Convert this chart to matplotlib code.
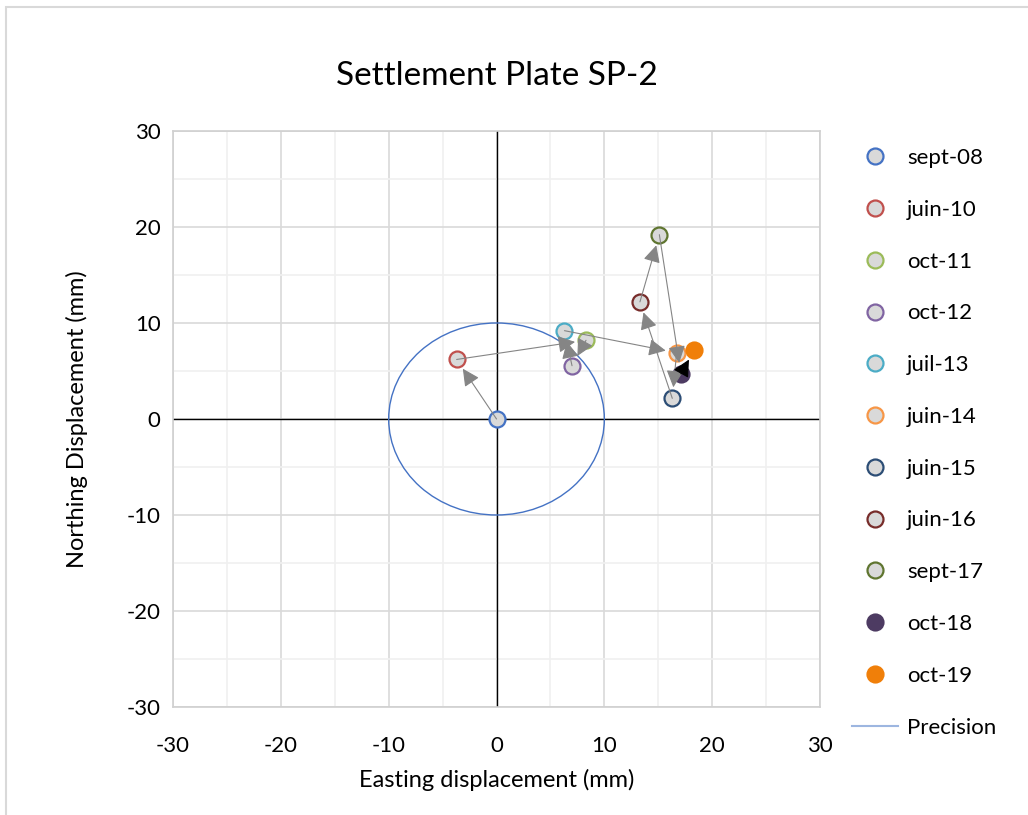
import matplotlib.pyplot as plt
from matplotlib.lines import Line2D
from matplotlib.patches import Circle, Rectangle

plt.rcParams['font.family'] = ['Lato', 'DejaVu Sans']
plt.rcParams['axes.unicode_minus'] = False

# Data
dates = ['sept-08', 'juin-10', 'oct-11', 'oct-12', 'juil-13', 'juin-14',
         'juin-15', 'juin-16', 'sept-17', 'oct-18', 'oct-19']
easting = [0.0, -3.7, 8.3, 7.0, 6.3, 16.7, 16.3, 13.3, 15.1, 17.1, 18.35]
northing = [0.0, 6.2, 8.2, 5.55, 9.2, 6.9, 2.15, 12.2, 19.2, 4.7, 7.2]
edge_colors = ['#4472c4', '#c0504d', '#9bbb59', '#8064a2', '#4bacc6', '#f79646',
               '#2c4d75', '#772c2a', '#5f7530', '#4d3b62', '#f07f09']
filled = [False] * 9 + [True, True]
precision_radius = 10
ticks = [-30, -20, -10, 0, 10, 20, 30]
minor_ticks = [-25, -15, -5, 5, 15, 25]

fig = plt.figure(figsize=(10.28, 8.15), dpi=100)
ax = fig.add_axes([0.1683, 0.1325, 0.6294, 0.7068])

# outer chart border
fig.patches.append(Rectangle((6 / 1028, -0.01), 1.1, 1 - 7 / 815 + 0.01,
                             transform=fig.transFigure, fill=False,
                             edgecolor='#d9d9d9', lw=1.5))

ax.set_xlim(-30, 30)
ax.set_ylim(-30, 30)
ax.set_xticks(ticks)
ax.set_yticks(ticks)
ax.set_xticks(minor_ticks, minor=True)
ax.set_yticks(minor_ticks, minor=True)
ax.grid(which='major', color='#d9d9d9', lw=1.2)
ax.grid(which='minor', color='#f0f0f0', lw=1.2)
ax.set_axisbelow(True)
ax.tick_params(which='both', length=0, labelsize=16)
ax.tick_params(axis='x', pad=21)
ax.tick_params(axis='y', pad=9)
for s in ax.spines.values():
    s.set_color('#d0d0d0')
    s.set_linewidth(1.2)

ax.axhline(0, color='black', lw=1, zorder=1)
ax.axvline(0, color='black', lw=1, zorder=1)

# precision circle
circ = Circle((0, 0), precision_radius, fill=False, edgecolor='#4472c4', lw=1, zorder=2)
ax.add_patch(circ)

handles = []
for i, d in enumerate(dates):
    face = edge_colors[i] if filled[i] else '#d9d9d9'
    ax.plot(easting[i], northing[i], 'o', ms=11.5, mfc=face, mec=edge_colors[i],
            mew=1.6, zorder=3)
    handles.append(Line2D([], [], ls='none', marker='o', ms=11.5, mfc=face,
                          mec=edge_colors[i], mew=1.6, label=d))

# movement arrows
for i in range(len(dates) - 1):
    col = 'black' if i == len(dates) - 2 else '#858585'
    ax.annotate('', xy=(easting[i + 1], northing[i + 1]),
                xytext=(easting[i], northing[i]),
                arrowprops=dict(arrowstyle='-|>', color=col, lw=0.8,
                                mutation_scale=26, shrinkA=0, shrinkB=8),
                zorder=4)

handles.append(Line2D([], [], color='#9db6e0', lw=1.5, label='Precision'))

ax.legend(handles=handles, loc='upper left', bbox_to_anchor=(0.809, 0.843),
          bbox_transform=fig.transFigure, frameon=False, fontsize=16,
          labelspacing=1.43, handlelength=2.1, handletextpad=0.4)

ax.set_title('Settlement Plate SP-2', fontsize=24, pad=33)
ax.set_xlabel('Easting displacement (mm)', fontsize=17, labelpad=9)
ax.set_ylabel('Northing Displacement (mm)', fontsize=17, labelpad=28)

fig.savefig('out.png', dpi=100)
